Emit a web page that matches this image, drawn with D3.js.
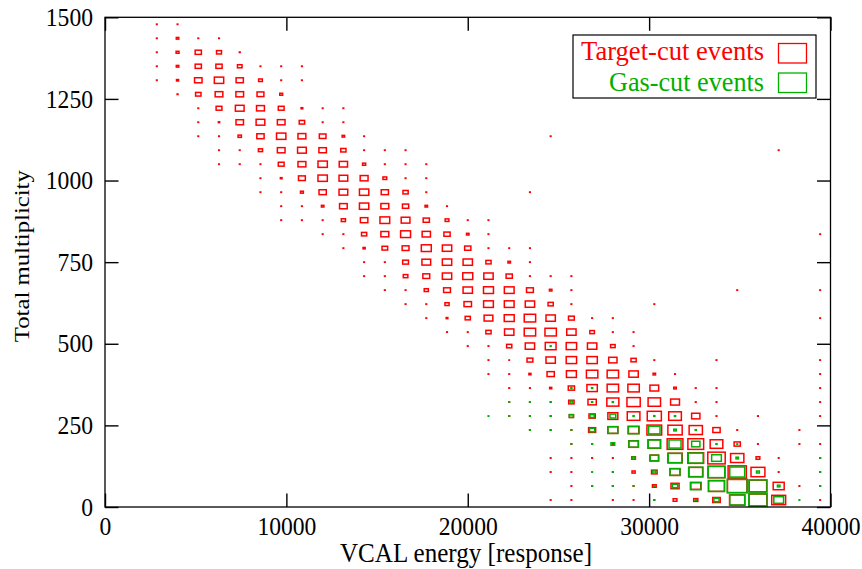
<!DOCTYPE html>
<html>
<head>
<meta charset="utf-8">
<script src="https://cdn.jsdelivr.net/npm/d3@7"></script>
<style>
  body { margin: 0; background: #fff; }
  text { font-family: "Liberation Serif", "Times New Roman", serif; }
</style>
</head>
<body>
<svg id="chart" width="862" height="569"></svg>
<script>
var xDomain = [0, 40000];
var yDomain = [0, 1500];
var nBins = 35;
var xTicks = [0, 10000, 20000, 30000, 40000];
var yTicks = [0, 250, 500, 750, 1000, 1250, 1500];
var seriesNames = ["Target-cut events", "Gas-cut events"];
var seriesColors = ["#ff0000", "#00b000"];

// each row: [y bin, first x bin, counts along x]  (0 = empty bin)
var targetRows = [
    [34, 2, [3, 3]],
    [33, 2, [3, 12, 3, 3]],
    [32, 2, [3, 14, 30, 24, 4]],
    [31, 2, [3, 12, 30, 30, 22, 3, 3, 3]],
    [30, 2, [3, 10, 36, 45, 35, 18, 3, 3]],
    [29, 3, [4, 26, 37, 37, 33, 14]],
    [28, 4, [3, 28, 42, 38, 28, 8, 3, 3]],
    [27, 4, [3, 6, 36, 42, 37, 26, 3, 3]],
    [26, 4, [3, 3, 16, 35, 45, 38, 32, 12, 3, 0, 0, 0, 0, 0, 0, 0, 0, 3]],
    [25, 5, [3, 3, 20, 37, 42, 36, 25, 3, 3, 3]],
    [25, 32, [3]],
    [24, 5, [3, 3, 3, 28, 38, 45, 40, 15, 3, 3, 3]],
    [23, 7, [3, 8, 33, 45, 42, 38, 18, 3, 3]],
    [22, 7, [3, 3, 14, 35, 42, 45, 35, 25, 3, 0, 0, 0, 0, 3]],
    [21, 8, [3, 3, 12, 37, 45, 38, 30, 12, 3]],
    [20, 8, [3, 3, 3, 20, 36, 47, 42, 30, 18, 3, 3]],
    [19, 10, [3, 3, 25, 38, 48, 40, 30, 12, 3]],
    [19, 34, [3]],
    [18, 11, [3, 10, 27, 33, 48, 45, 30, 3, 3, 3]],
    [17, 12, [3, 3, 28, 42, 45, 45, 25, 12, 3]],
    [16, 12, [3, 3, 22, 33, 45, 48, 45, 30, 3, 3, 3]],
    [15, 13, [3, 3, 20, 33, 45, 48, 47, 33, 12, 3]],
    [15, 30, [3, 0, 0, 0, 3]],
    [14, 14, [3, 3, 20, 36, 47, 47, 45, 25, 3, 0, 0, 0, 3]],
    [13, 15, [3, 8, 25, 42, 48, 55, 45, 28, 3, 3]],
    [13, 34, [3]],
    [12, 16, [3, 3, 25, 45, 55, 55, 45, 22, 3, 3]],
    [11, 17, [3, 3, 25, 45, 52, 50, 45, 22, 3]],
    [10, 18, [3, 2, 28, 45, 50, 50, 40, 25, 3, 0, 0, 3]],
    [10, 34, [3]],
    [9, 18, [3, 3, 10, 35, 48, 55, 55, 45, 12, 3]],
    [9, 34, [3]],
    [8, 19, [3, 3, 10, 30, 50, 55, 55, 42, 12, 3, 3]],
    [8, 34, [3]],
    [7, 19, [3, 3, 3, 26, 40, 58, 64, 60, 43, 3, 3]],
    [7, 34, [3]],
    [6, 19, [3, 3, 3, 20, 30, 48, 61, 68, 61, 40, 3, 0, 3]],
    [6, 34, [3]],
    [5, 20, [3, 3, 3, 34, 48, 50, 71, 69, 64, 35, 3, 0, 0, 3]],
    [4, 22, [3, 3, 5, 47, 61, 76, 76, 61, 30, 3, 0, 3, 3]],
    [3, 21, [3, 3, 3, 3, 18, 42, 69, 76, 84, 64, 18, 3, 0, 3]],
    [2, 21, [3, 3, 0, 3, 15, 27, 48, 66, 82, 88, 67, 3, 0, 3]],
    [1, 22, [3, 3, 3, 3, 18, 39, 48, 77, 94, 84, 53, 3, 3]],
    [0, 21, [3, 3, 0, 3, 3, 3, 18, 20, 36, 74, 86, 67, 0, 3]]
];

var gasRows = [
    [11, 21, [4]],
    [8, 22, [5, 5]],
    [7, 19, [3, 3, 3, 14, 5, 5]],
    [6, 18, [3, 3, 3, 3, 20, 20, 28, 5, 5, 5]],
    [5, 20, [3, 3, 3, 25, 48, 53, 55, 12, 5]],
    [4, 22, [3, 3, 18, 45, 58, 58, 40, 5, 3]],
    [3, 25, [15, 40, 66, 72, 47, 12, 0, 0, 0, 3]],
    [2, 23, [3, 3, 0, 15, 48, 69, 80, 72, 14, 0, 0, 3]],
    [1, 23, [3, 3, 3, 5, 25, 52, 77, 96, 87, 12, 0, 3]],
    [0, 26, [3, 0, 5, 25, 72, 88, 47, 3]]
];

var svg = d3.select("#chart");
var plotLeft = 105, plotRight = 830.5, plotTop = 17.3, plotBottom = 507;

var x = d3.scaleLinear().domain(xDomain).range([plotLeft, plotRight]);
var y = d3.scaleLinear().domain(yDomain).range([plotBottom, plotTop]);
var size = d3.scaleLinear().domain([0, 100]).range([0, 1]);

var xStep = (xDomain[1] - xDomain[0]) / nBins;
var yStep = (yDomain[1] - yDomain[0]) / nBins;
var binW = x(xStep) - x(0);
var binH = y(0) - y(yStep);

function toCells(rows) {
    var cells = [];
    rows.forEach(function(r) {
        r[2].forEach(function(v, k) {
            if(v > 0) cells.push({xc: xDomain[0] + (r[1] + k + 0.5) * xStep,
                                  yc: yDomain[0] + (r[0] + 0.5) * yStep, v: v});
        });
    });
    return cells;
}

[targetRows, gasRows].forEach(function(rows, s) {
    svg.append("g")
       .selectAll("rect")
       .data(toCells(rows))
       .enter()
       .append("rect")
       .attr("x", d => x(d.xc) - size(d.v) * binW / 2)
       .attr("y", d => y(d.yc) - size(d.v) * binH / 2)
       .attr("width", d => size(d.v) * binW)
       .attr("height", d => size(d.v) * binH)
       .attr("fill", "none")
       .attr("stroke", seriesColors[s])
       .attr("stroke-width", 1.5);
});

// axes, ticks pointing inward on all four sides
var tickLen = 13.5;
var fmt = d3.format("d");
var gx = svg.append("g").attr("transform", "translate(0," + plotBottom + ")")
    .call(d3.axisBottom(x).tickValues(xTicks).tickFormat(fmt).tickSize(-tickLen).tickSizeOuter(0).tickPadding(10));
svg.append("g").attr("transform", "translate(0," + plotTop + ")")
    .call(d3.axisTop(x).tickValues(xTicks).tickSize(-tickLen).tickSizeOuter(0).tickFormat(""));
var gy = svg.append("g").attr("transform", "translate(" + plotLeft + ",0)")
    .call(d3.axisLeft(y).tickValues(yTicks).tickFormat(fmt).tickSize(-tickLen).tickSizeOuter(0).tickPadding(12));
svg.append("g").attr("transform", "translate(" + plotRight + ",0)")
    .call(d3.axisRight(y).tickValues(yTicks).tickSize(-tickLen).tickSizeOuter(0).tickFormat(""));

svg.selectAll(".domain").remove();
svg.selectAll(".tick line").attr("stroke", "#000").attr("stroke-width", 1.4);
[gx, gy].forEach(function(g) {
    g.selectAll("text")
     .attr("font-family", "Liberation Serif")
     .attr("font-size", 25.5)
     .attr("fill", "#000")
     .attr("textLength", d => String(d).length * 11.8)
     .attr("lengthAdjust", "spacingAndGlyphs");
});

svg.append("rect")
   .attr("x", plotLeft).attr("y", plotTop)
   .attr("width", plotRight - plotLeft).attr("height", plotBottom - plotTop)
   .attr("fill", "none").attr("stroke", "#000").attr("stroke-width", 1.3);

// axis titles
svg.append("text")
   .attr("x", 466).attr("y", 562)
   .attr("text-anchor", "middle")
   .attr("font-size", 27.5)
   .attr("textLength", 252).attr("lengthAdjust", "spacingAndGlyphs")
   .text("VCAL energy [response]");
svg.append("text")
   .attr("transform", "translate(28.5," + ((plotTop + plotBottom) / 2 - 6) + ") rotate(-90)")
   .attr("text-anchor", "middle")
   .attr("font-size", 21)
   .attr("textLength", 172).attr("lengthAdjust", "spacingAndGlyphs")
   .text("Total multiplicity");

// key
var key = svg.append("g");
key.append("rect")
   .attr("x", 573).attr("y", 35).attr("width", 243).attr("height", 63)
   .attr("fill", "#fff").attr("stroke", "#000").attr("stroke-width", 1.2);
var keyWidths = [183, 155];
seriesNames.forEach(function(name, s) {
    key.append("text")
       .attr("x", 764).attr("y", 60 + s * 30.5)
       .attr("text-anchor", "end")
       .attr("font-size", 27)
       .attr("fill", seriesColors[s])
       .attr("textLength", keyWidths[s]).attr("lengthAdjust", "spacingAndGlyphs")
       .text(name);
    key.append("rect")
       .attr("x", 778.5).attr("y", 43.5 + s * 29.5)
       .attr("width", 28).attr("height", 19.5)
       .attr("fill", "none")
       .attr("stroke", seriesColors[s])
       .attr("stroke-width", 1.3);
});
</script>
</body>
</html>
